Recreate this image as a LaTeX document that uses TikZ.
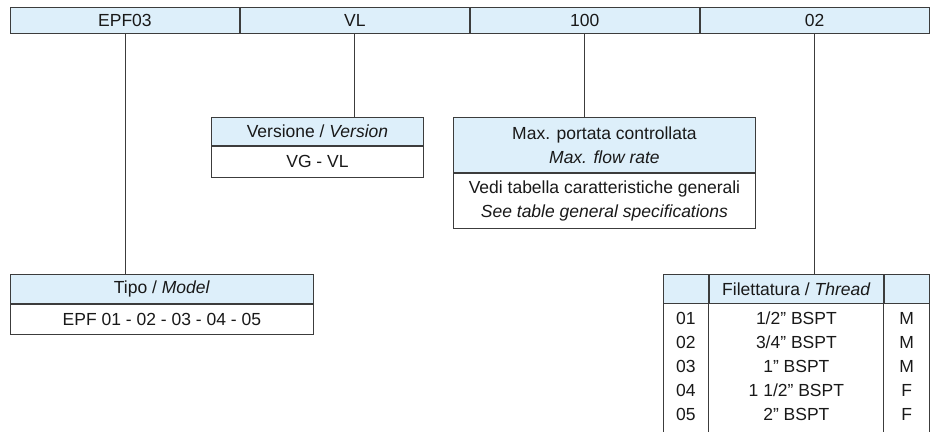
\documentclass[tikz,border=0pt]{standalone}
\usepackage{fontspec}
\setmainfont{Liberation Sans}
\usetikzlibrary{positioning}

\definecolor{headblue}{RGB}{221,239,250}
\definecolor{rulegray}{RGB}{60,60,60}

\tikzset{
    every node/.style={font=\fontsize{17.5}{24}\selectfont, text=black!90},
    box/.style={draw=rulegray, line width=0.9pt, inner sep=0pt, align=center},
    codecell/.style={box, fill=headblue, minimum width=229pt, minimum height=26pt},
    title/.style={box, fill=headblue},
    value/.style={box, fill=white},
    link/.style={draw=rulegray, line width=0.9pt}
}

\begin{document}
\begin{tikzpicture}[x=1pt, y=-1pt]
    \useasboundingbox (0,0) rectangle (933,432);

    % Order code
    \node[codecell, anchor=north west] (cod1) at (10,7) {EPF03};
    \node[codecell, right=0pt of cod1] (cod2) {VL};
    \node[codecell, right=0pt of cod2] (cod3) {100};
    \node[codecell, right=0pt of cod3] (cod4) {02};

    % Version
    \node[title, anchor=north west, minimum width=212pt, minimum height=28pt] (ver) at (211,117) {Versione / \textit{Version}};
    \node[value, below=0pt of ver, minimum width=212pt, minimum height=31pt] (verval) {VG - VL};

    % Max. flow rate
    \node[title, anchor=north west, minimum width=302pt, minimum height=55pt] (maxq) at (453,117) {
        Max. portata controllata\\
        \textit{Max. flow rate}
    };
    \node[value, below=0pt of maxq, minimum width=302pt, minimum height=55pt] (maxqval) {
        Vedi tabella caratteristiche generali\\
        \textit{See table general specifications}
    };

    % Model
    \node[title, anchor=north west, minimum width=303pt, minimum height=29pt] (tipo) at (10,274) {Tipo / \textit{Model}};
    \node[value, below=0pt of tipo, minimum width=303pt, minimum height=30pt] (tipoval) {EPF 01 - 02 - 03 - 04 - 05};

    % Thread table
    \node[title, anchor=north west, minimum width=45pt, minimum height=29pt] (fil1) at (663,274) {};
    \node[title, right=0pt of fil1, minimum width=174pt, minimum height=29pt] (fil2) {Filettatura / \textit{Thread}};
    \node[title, right=0pt of fil2, minimum width=45pt, minimum height=29pt] (fil3) {};
    \coordinate (fondo) at (0,432);
    \draw[link] (fil1.south west) -- (fil1.south west |- fondo);
    \draw[link] (fil2.south west) -- (fil2.south west |- fondo);
    \draw[link] (fil2.south east) -- (fil2.south east |- fondo);
    \draw[link] (fil3.south east) -- (fil3.south east |- fondo);

    \foreach \num/\misura/\gen [count=\i] in {01/{1/2” BSPT}/M, 02/{3/4” BSPT}/M, 03/{1” BSPT}/M, 04/{1 1/2” BSPT}/F, 05/{2” BSPT}/F} {
        \pgfmathsetmacro\yy{294+24*\i}
        \node (num\i) at (fil1.center |- 0,\yy) {\num};
        \node (mis\i) at (fil2.center |- 0,\yy) {\misura};
        \node (gen\i) at (fil3.center |- 0,\yy) {\gen};
    }

    % Connectors
    \draw[link] (cod1.south) -- (cod1.south |- tipo.north);
    \draw[link] (cod2.south) -- (cod2.south |- ver.north);
    \draw[link] (cod3.south) -- (cod3.south |- maxq.north);
    \draw[link] (cod4.south) -- (cod4.south |- fil2.north);
\end{tikzpicture}
\end{document}
